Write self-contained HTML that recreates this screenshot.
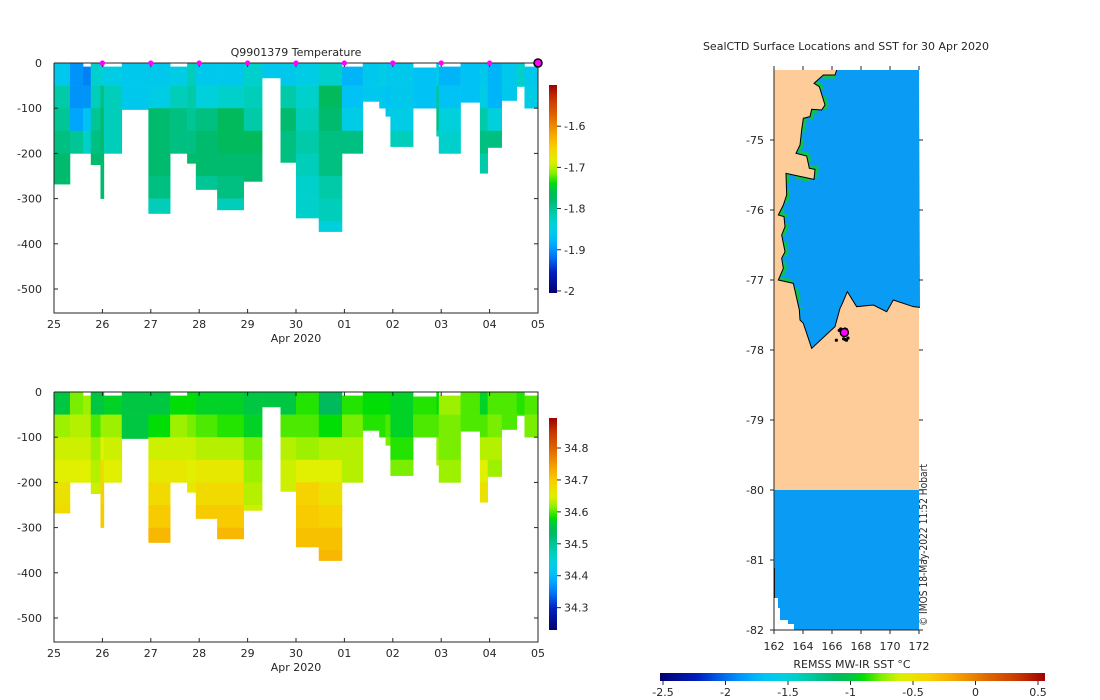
<!DOCTYPE html>
<html><head><meta charset="utf-8">
<style>
html,body{margin:0;padding:0;background:#fff;}
svg{display:block;font-family:"DejaVu Sans","Liberation Sans",sans-serif;}
text{fill:#262626;font-size:11px;}
</style></head>
<body>
<svg id="fig" width="1100" height="700" viewBox="0 0 1100 700" xmlns="http://www.w3.org/2000/svg">
<defs>
<linearGradient id="cmapV" x1="0" y1="1" x2="0" y2="0"></linearGradient>
<linearGradient id="cmapH" x1="0" y1="0" x2="1" y2="0"></linearGradient>
<clipPath id="oceanClip"><polygon id="oceanClipPoly" points=""/></clipPath>
</defs>
<g id="topPanel"></g>
<g id="botPanel"></g>
<g id="mapPanel"></g>
</svg>
<script>
// ---------- data ----------
const dayLabels = ["25","26","27","28","29","30","01","02","03","04","05"];
const depthTicks = [0,-100,-200,-300,-400,-500];
const tempTicks = [-1.6,-1.7,-1.8,-1.9,-2];
const salTicks = [34.8,34.7,34.6,34.5,34.4,34.3];
const sstTicks = [-2.5,-2,-1.5,-1,-0.5,0,0.5];
const latTicks = [-75,-76,-77,-78,-79,-80,-81,-82];
const lonTicks = [162,164,166,168,170,172];
// profile columns: start day, end day (days since 25 Apr), max depth, top gap (m)
const profStart = [0,0.33,0.6,0.76,0.96,1.03,1.4,1.95,2.4,2.75,2.93,3.37,3.92,4.3,4.68,5.0,5.47,5.95,6.38,6.72,6.85,6.95,7.42,7.9,7.95,8.4,8.8,8.96,9.25,9.56,9.72];
const profEnd   = [0.33,0.6,0.76,0.96,1.03,1.4,1.95,2.4,2.75,2.93,3.37,3.92,4.3,4.68,5.0,5.47,5.95,6.38,6.72,6.85,6.95,7.42,7.9,7.95,8.4,8.8,8.96,9.25,9.56,9.72,10];
const profDepth = [268,200,200,225,300,200,103,333,200,222,280,325,262,33,220,343,373,200,85,100,118,185,100,162,200,87,244,187,83,52,100];
const profGap   = [0,0,8,0,0,8,0,0,8,0,0,0,0,0,0,0,0,8,0,0,0,0,10,0,8,0,0,0,0,0,8];
// temperature per 50 m bin
const tempBins = [
[-1.86,-1.81,-1.80,-1.79,-1.78,-1.78],[-1.90,-1.90,-1.89,-1.80],[-1.91,-1.90,-1.87,-1.83],
[-1.83,-1.82,-1.80,-1.79,-1.78],[-1.84,-1.79,-1.78,-1.78,-1.78,-1.78],[-1.85,-1.82,-1.82,-1.82],
[-1.86,-1.86,-1.86],[-1.86,-1.85,-1.78,-1.78,-1.78,-1.79,-1.82],[-1.85,-1.82,-1.79,-1.79],
[-1.82,-1.81,-1.80,-1.79,-1.78],[-1.86,-1.84,-1.79,-1.78,-1.78,-1.80],[-1.86,-1.83,-1.77,-1.77,-1.78,-1.79,-1.82],
[-1.83,-1.82,-1.81,-1.77,-1.78,-1.78],[-1.86],[-1.86,-1.81,-1.78,-1.79,-1.79],
[-1.85,-1.83,-1.82,-1.81,-1.82,-1.83,-1.83],[-1.83,-1.77,-1.78,-1.79,-1.79,-1.81,-1.82,-1.84],[-1.88,-1.87,-1.85,-1.79],
[-1.86,-1.86],[-1.85,-1.86],[-1.86,-1.87,-1.86],[-1.86,-1.86,-1.85,-1.82],[-1.87,-1.87],
[-1.85,-1.80,-1.79,-1.82],[-1.88,-1.87,-1.84,-1.83],[-1.87,-1.87],[-1.86,-1.85,-1.81,-1.79,-1.81],
[-1.88,-1.88,-1.84,-1.79],[-1.86,-1.86],[-1.83,-1.83],[-1.86,-1.85]];
// salinity per 50 m bin
const salBins = [
[34.56,34.62,34.64,34.65,34.67,34.68],[34.61,34.63,34.64,34.65],[34.62,34.63,34.64,34.65],
[34.56,34.60,34.62,34.63,34.64],[34.56,34.62,34.65,34.68,34.69,34.70],[34.57,34.62,34.64,34.65],
[34.56,34.56,34.56],[34.56,34.58,34.64,34.66,34.68,34.70,34.72],[34.58,34.62,34.64,34.66],
[34.58,34.61,34.64,34.65,34.66],[34.57,34.60,34.63,34.66,34.68,34.70],[34.57,34.59,34.63,34.66,34.68,34.70,34.72],
[34.56,34.57,34.61,34.62,34.63,34.64],[34.56],[34.56,34.60,34.63,34.64,34.64],
[34.59,34.60,34.62,34.65,34.69,34.70,34.71],[34.54,34.58,34.63,34.65,34.67,34.69,34.71,34.72],[34.59,34.61,34.63,34.63],
[34.58,34.59],[34.58,34.59],[34.58,34.60,34.61],[34.57,34.57,34.59,34.61],[34.59,34.60],
[34.58,34.60,34.62,34.63],[34.62,34.61,34.61,34.62],[34.60,34.60],[34.57,34.60,34.63,34.65,34.67],
[34.60,34.61,34.63,34.62],[34.60,34.60],[34.59,34.60],[34.60,34.61]];
const markerDays = [1,2,3,4,5,6,7,8,9];
const lastMarkerDay = [10];
// map profile positions (lon, lat)
const trackLon = [166.6,166.7,166.9,167.0,166.8,167.1,166.5,166.9,167.0,166.3];
const trackLat = [-77.70,-77.72,-77.85,-77.86,-77.84,-77.83,-77.72,-77.70,-77.71,-77.86];
const currentLon = [166.85];
const currentLat = [-77.75];

// ---------- colormap ----------
const cstops = [[0,"#000070"],[0.1,"#0020c0"],[0.17,"#0070f0"],[0.22,"#00a0ff"],[0.27,"#00c4f4"],[0.32,"#00d0e0"],[0.36,"#00d0c0"],[0.41,"#00c490"],[0.46,"#00b860"],[0.5,"#00c840"],[0.53,"#00e000"],[0.58,"#90f000"],[0.63,"#e0f000"],[0.7,"#f8d000"],[0.76,"#f8a800"],[0.85,"#e06800"],[0.93,"#c83800"],[1,"#a00000"]];
function hex(c){return [parseInt(c.substr(1,2),16),parseInt(c.substr(3,2),16),parseInt(c.substr(5,2),16)];}
function cmap(t){t=Math.max(0,Math.min(1,t));
 for(let i=1;i<cstops.length;i++){if(t<=cstops[i][0]){const a=cstops[i-1],b=cstops[i];const f=(t-a[0])/(b[0]-a[0]);const A=hex(a[1]),B=hex(b[1]);
 return "rgb("+A.map((v,k)=>Math.round(v+(B[k]-v)*f)).join(",")+")";}}return cstops[cstops.length-1][1];}
const NS="http://www.w3.org/2000/svg";
function mk(tag,attrs,parent){const e=document.createElementNS(NS,tag);for(const k in attrs)e.setAttribute(k,attrs[k]);if(parent)parent.appendChild(e);return e;}
["cmapV","cmapH"].forEach(id=>{const g=document.getElementById(id);for(let i=0;i<=40;i++){mk("stop",{offset:(i/40),"stop-color":cmap(i/40)},g);}});

// ---------- section panels ----------
function section(gid,top,bins,vmin,vmax,ticks,cbTop,cbBot,title){
 const g=document.getElementById(gid);
 const x0=54,x1=538,yTop=top,pxPer100=45.2,yBot=top+250;
 const xs=d=>x0+(x1-x0)*d/10;
 const ys=m=>yTop+m*pxPer100/100;
 if(title){const t=mk("text",{x:296,y:56,"text-anchor":"middle","font-size":"11.5"},g);t.textContent=title;
  
  }
 for(let c=0;c<profStart.length;c++){
  const vals=bins[c];
  for(let b=0;b<vals.length;b++){
   const d0=Math.max(b*50,profGap[c]),d1=Math.min((b+1)*50,profDepth[c]);
   if(d1<=d0)continue;
   const r=mk("rect",{x:xs(profStart[c]),y:ys(d0),width:xs(profEnd[c])-xs(profStart[c])+0.3,height:ys(d1)-ys(d0)+0.3,fill:cmap((vals[b]-vmin)/(vmax-vmin))},g);
   
   
  }
 }
 const frame=mk("path",{d:`M${x0},${yTop}V${yBot}H${x1}V${yTop}H${x0}`,fill:"none",stroke:"#262626","stroke-width":1},g);
 
 
 dayLabels.forEach((l,i)=>{const x=xs(i);
  mk("line",{x1:x,x2:x,y1:yBot,y2:yBot-4,stroke:"#262626"},g);
  mk("line",{x1:x,x2:x,y1:yTop,y2:yTop+4,stroke:"#262626"},g);
  const t=mk("text",{x:x,y:yBot+15,"text-anchor":"middle"},g);t.textContent=l;
  
  });
 const xl=mk("text",{x:296,y:yBot+29,"text-anchor":"middle"},g);xl.textContent="Apr 2020";
 
 
 depthTicks.forEach(v=>{const y=ys(-v);
  mk("line",{x1:x0,x2:x0+4,y1:y,y2:y,stroke:"#262626"},g);
  mk("line",{x1:x1,x2:x1-4,y1:y,y2:y,stroke:"#262626"},g);
  const t=mk("text",{x:x0-12,y:y+4,"text-anchor":"end"},g);t.textContent=v;
  
  });
 const cb=mk("rect",{x:549,y:cbTop,width:8,height:cbBot-cbTop,fill:"url(#cmapV)"},g);
 
 
 ticks.forEach(v=>{const y=cbBot-(v-vmin)/(vmax-vmin)*(cbBot-cbTop);
  mk("line",{x1:557,x2:561,y1:y,y2:y,stroke:"#262626"},g);
  const t=mk("text",{x:564,y:y+4},g);t.textContent=v;
  
  });
 return {xs,ys,g};
}
const T=section("topPanel",63,tempBins,-2.005,-1.5,tempTicks,85,293,"Q9901379  Temperature");
section("botPanel",392,salBins,34.23,34.894,salTicks,418,630,null);
markerDays.forEach(d=>{const c=mk("circle",{cx:T.xs(d),cy:63,r:2.6,fill:"#ff00ff"},T.g);
 
 });
lastMarkerDay.forEach(d=>{const c=mk("circle",{cx:T.xs(d),cy:63,r:4,fill:"#ff00ff",stroke:"#000","stroke-width":1.5},T.g);
 
 });

// ---------- map ----------
const M=document.getElementById("mapPanel");
const lx=lon=>774+(lon-162)*14.5;
const ly=lat=>140+(-75-lat)*70;
const mt=mk("text",{x:846,y:50,"text-anchor":"middle","font-size":"11.5"},M);mt.textContent="SealCTD Surface Locations and SST for 30 Apr 2020";


const land=mk("rect",{x:774,y:70,width:145,height:420,fill:"#fdcc98"},M);


// coastline (basemap outline)
const coastZ=[[290,60],[285,75],[250,75],[222,100],[238,110],[255,165],[245,180],[215,178],[210,200],[190,205],[185,240],[180,285],[168,310],[200,318],[208,355],[225,358],[222,388],[138,370],[140,435],[130,465],[115,495],[132,500],[135,530],[125,555],[135,605],[125,625],[130,655],[115,690],[160,700],[178,780],[180,810],[190,820],[215,895],[285,830],[300,775],[305,765],[322,725],[350,770],[400,765],[440,785],[460,750],[520,770],[540,772]];
const coast=coastZ.map(p=>[740+p[0]/3,50+p[1]/3]);
const oceanPts=[[919,70]].concat(coast.slice().reverse());
const ptsStr=oceanPts.map(p=>p.join(",")).join(" ");
document.getElementById("oceanClipPoly").setAttribute("points",ptsStr);
const ocean=mk("polygon",{points:ptsStr,fill:"#0a9cf5"},M);


const fringe=mk("polyline",{points:coast.slice(1,30).map(p=>p.join(",")).join(" "),fill:"none",stroke:"#10c050","stroke-width":7,"stroke-dasharray":"14 6","clip-path":"url(#oceanClip)"},M);


const cl=mk("polyline",{points:coast.map(p=>p.join(",")).join(" "),fill:"none",stroke:"#000","stroke-width":1},M);


const south=mk("polygon",{points:"774,490 919,490 919,630 794,630 794,624 788,624 788,620 780,620 780,608 778,608 778,598 774,598",fill:"#0a9cf5"},M);


mk("line",{x1:774.5,x2:774.5,y1:568,y2:598,stroke:"#000"},M);
trackLon.forEach((lo,i)=>{const c=mk("circle",{cx:lx(lo),cy:ly(trackLat[i]),r:1.6,fill:"#000"},M);
 
 });
currentLon.forEach((lo,i)=>{const c=mk("circle",{cx:lx(lo),cy:ly(currentLat[i]),r:4,fill:"#ff00ff",stroke:"#000","stroke-width":1.5},M);
 
 });
mk("line",{x1:774,x2:774,y1:70,y2:630,stroke:"#262626"},M);
mk("line",{x1:774,x2:919,y1:630,y2:630,stroke:"#262626"},M);
latTicks.forEach(v=>{const y=ly(v);
 mk("line",{x1:774,x2:770,y1:y,y2:y,stroke:"#262626"},M);
 mk("line",{x1:919,x2:923,y1:y,y2:y,stroke:"#262626"},M);
 const t=mk("text",{x:764,y:y+4,"text-anchor":"end"},M);t.textContent=v;
 
 });
lonTicks.forEach(v=>{const x=lx(v);
 mk("line",{x1:x,x2:x,y1:630,y2:634,stroke:"#262626"},M);
 mk("line",{x1:x,x2:x,y1:66,y2:70,stroke:"#262626"},M);
 const t=mk("text",{x:x,y:650,"text-anchor":"middle"},M);t.textContent=v;
 
 });
const cr=mk("text",{x:0,y:0,"font-size":"9","textLength":"162","lengthAdjust":"spacingAndGlyphs","transform":"translate(927,626) rotate(-90)"},M);cr.textContent="© IMOS 18-May-2022 11:52 Hobart";


const ct=mk("text",{x:852,y:668,"text-anchor":"middle"},M);ct.textContent="REMSS MW-IR SST °C";


const hb=mk("rect",{x:660,y:673,width:385,height:8,fill:"url(#cmapH)"},M);


sstTicks.forEach(v=>{const x=663+(v+2.5)/3*(1038-663);
 mk("line",{x1:x,x2:x,y1:681,y2:685,stroke:"#262626"},M);
 const t=mk("text",{x:x,y:696,"text-anchor":"middle"},M);t.textContent=v;
 
 });
</script>
</body></html>
